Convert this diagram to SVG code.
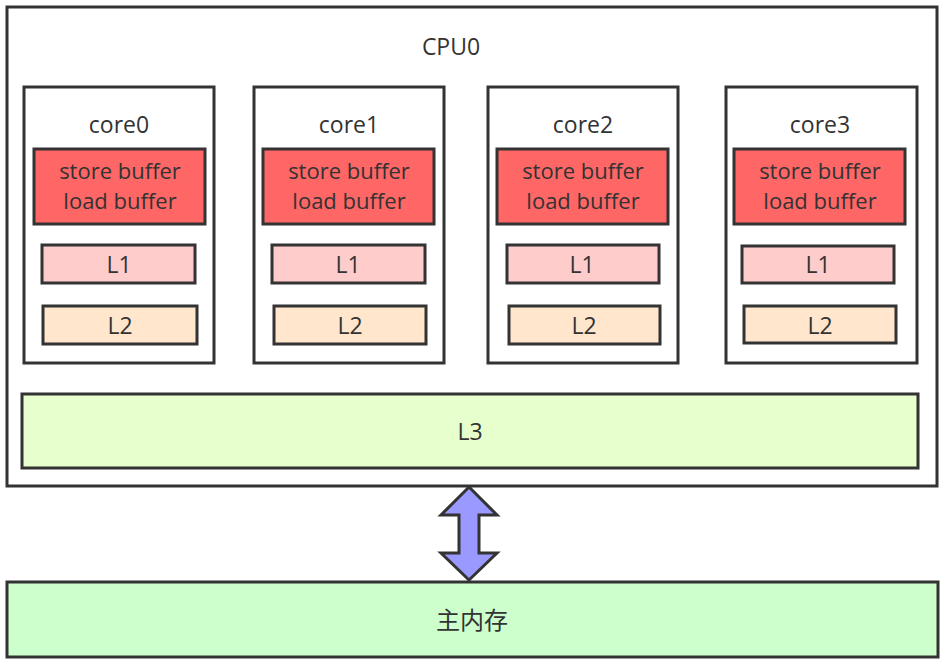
<svg xmlns="http://www.w3.org/2000/svg" width="944" height="665" viewBox="0 0 944 665">
<style>
.b{stroke:#333333;stroke-width:3}
.t{font-family:"Open Sans","Noto Sans CJK SC",sans-serif;font-size:23px;fill:#333333;text-anchor:middle}
.s{font-size:22px}
.w{fill:#ffffff}
.sb{fill:#ff6666}
.l1{fill:#ffcccc}
.l2{fill:#ffe6cc}
</style>
<rect width="944" height="665" fill="#ffffff"/>
<g id="cpu0">
<rect class="b w" x="7" y="7" width="930" height="479"/>
<text class="t" x="451" y="55">CPU0</text>
</g>
<g id="core0">
<rect class="b w" x="24" y="87" width="190" height="276"/>
<text class="t" x="119" y="133">core0</text>
<rect class="b sb" x="34" y="149" width="171" height="75"/>
<text class="t s" x="120" y="179">store buffer</text>
<text class="t s" x="120" y="209">load buffer</text>
<rect class="b l1" x="42" y="245" width="153" height="38"/>
<text class="t" x="119" y="273">L1</text>
<rect class="b l2" x="43" y="306" width="154" height="38"/>
<text class="t" x="120" y="334">L2</text>
</g>
<g id="core1">
<rect class="b w" x="254" y="87" width="190" height="276"/>
<text class="t" x="349" y="133">core1</text>
<rect class="b sb" x="263" y="149" width="171" height="75"/>
<text class="t s" x="349" y="179">store buffer</text>
<text class="t s" x="349" y="209">load buffer</text>
<rect class="b l1" x="272" y="245" width="153" height="38"/>
<text class="t" x="348" y="273">L1</text>
<rect class="b l2" x="274" y="306" width="152" height="38"/>
<text class="t" x="350" y="334">L2</text>
</g>
<g id="core2">
<rect class="b w" x="488" y="87" width="190" height="276"/>
<text class="t" x="583" y="133">core2</text>
<rect class="b sb" x="497" y="149" width="171" height="75"/>
<text class="t s" x="583" y="179">store buffer</text>
<text class="t s" x="583" y="209">load buffer</text>
<rect class="b l1" x="507" y="245" width="152" height="38"/>
<text class="t" x="582" y="273">L1</text>
<rect class="b l2" x="509" y="306" width="151" height="38"/>
<text class="t" x="584" y="334">L2</text>
</g>
<g id="core3">
<rect class="b w" x="726" y="87" width="191" height="276"/>
<text class="t" x="820" y="133">core3</text>
<rect class="b sb" x="734" y="149" width="171" height="75"/>
<text class="t s" x="820" y="179">store buffer</text>
<text class="t s" x="820" y="209">load buffer</text>
<rect class="b l1" x="742" y="246" width="152" height="37"/>
<text class="t" x="818" y="273">L1</text>
<rect class="b l2" x="744" y="306" width="152" height="37"/>
<text class="t" x="820" y="334">L2</text>
</g>
<g id="l3">
<rect class="b" fill="#e6ffcc" x="22" y="394" width="896" height="74"/>
<text class="t" x="470" y="440">L3</text>
</g>
<g id="memory">
<rect class="b" fill="#ccffcc" x="7" y="582" width="931" height="75"/>
<text class="t" x="472" y="629" style="font-size:24px">主内存</text>
</g>
<g id="connectors">
<polygon class="b" fill="#9999ff" stroke-linejoin="miter" points="469,487 497,515 479,515 479,553 497,553 469,580 441,553 459,553 459,515 441,515"/>
</g>
</svg>
